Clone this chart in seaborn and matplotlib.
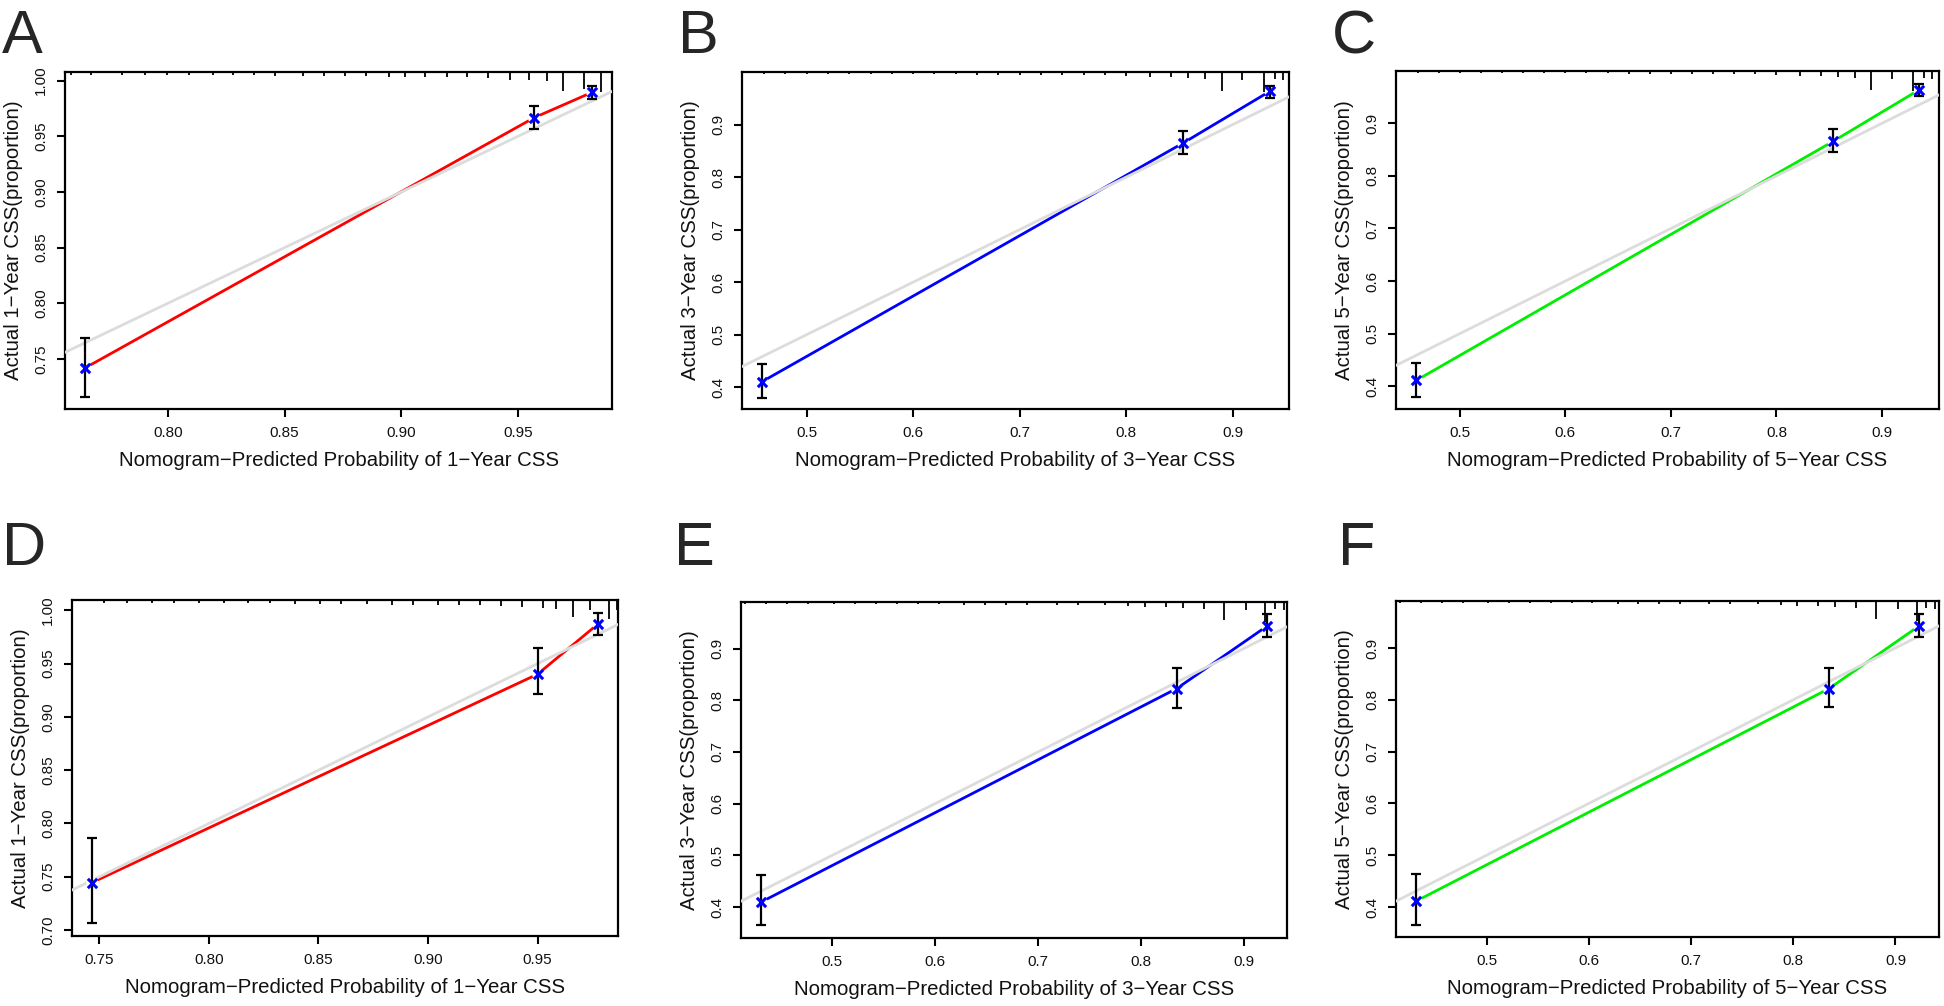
import numpy as np
import pandas as pd
import seaborn as sns
import matplotlib.pyplot as plt
import matplotlib.transforms as mtransforms

sns.set_style("ticks")
plt.rcParams['font.family'] = ['Liberation Sans', 'DejaVu Sans']

pred_A = [0.7646, 0.9570, 0.9818]
obs_A = [0.742, 0.9668, 0.9896]
lo_A = [0.716, 0.9563, 0.9836]
hi_A = [0.769, 0.977, 0.9955]

pred_B = [0.4584, 0.8535, 0.9345]
obs_B = [0.4108, 0.865, 0.963]
lo_B = [0.380, 0.844, 0.951]
hi_B = [0.4446, 0.8879, 0.974]

pred_C = [0.4587, 0.8536, 0.9354]
obs_C = [0.411, 0.8656, 0.964]
lo_C = [0.380, 0.8445, 0.951]
hi_C = [0.444, 0.889, 0.975]

pred_D = [0.7467, 0.9500, 0.9774]
obs_D = [0.7446, 0.9401, 0.9869]
lo_D = [0.7062, 0.9214, 0.9766]
hi_D = [0.7864, 0.9644, 0.9972]

pred_E = [0.4309, 0.8348, 0.9225]
obs_E = [0.4097, 0.8226, 0.9432]
lo_E = [0.3645, 0.7858, 0.922]
hi_E = [0.4626, 0.862, 0.967]

pred_F = [0.4306, 0.8349, 0.9231]
obs_F = [0.411, 0.8215, 0.9425]
lo_F = [0.366, 0.786, 0.921]
hi_F = [0.4644, 0.862, 0.966]

# rug of predicted values along the top border (position, relative height)
rug_A = [0.7585, 0.7672, 0.7802, 0.7901, 0.7996, 0.8090, 0.8195, 0.8280, 0.8370,
         0.8460, 0.8577, 0.8667, 0.8757, 0.8847, 0.8947, 0.9015, 0.9100, 0.9195,
         0.9280, 0.9370, 0.9466, 0.9547, 0.9623, 0.9695, 0.9785, 0.9857]
rugh_A = [0.008, 0.008, 0.008, 0.008, 0.01, 0.01, 0.01, 0.01, 0.01, 0.012, 0.012,
          0.012, 0.012, 0.012, 0.014, 0.014, 0.014, 0.016, 0.016, 0.018, 0.025,
          0.025, 0.028, 0.055, 0.05, 0.058]

rug_B = [0.46, 0.48, 0.50, 0.52, 0.54, 0.56, 0.58, 0.60, 0.62, 0.64, 0.66, 0.68,
         0.70, 0.72, 0.74, 0.76, 0.78, 0.80, 0.822, 0.842, 0.858, 0.874, 0.890,
         0.909, 0.929, 0.940, 0.947]
rugh_B = [0.005, 0.005, 0.006, 0.006, 0.006, 0.006, 0.006, 0.007, 0.007, 0.007,
          0.008, 0.008, 0.008, 0.009, 0.009, 0.01, 0.01, 0.012, 0.014, 0.016,
          0.018, 0.02, 0.055, 0.025, 0.06, 0.02, 0.025]

rug_D = [0.752, 0.7625, 0.774, 0.784, 0.7955, 0.807, 0.818, 0.8277, 0.8393, 0.8508,
         0.8604, 0.872, 0.8834, 0.893, 0.9045, 0.914, 0.9237, 0.9333, 0.9429,
         0.9525, 0.9583, 0.966, 0.9737, 0.9824, 0.9862]
rugh_D = [0.008, 0.008, 0.008, 0.008, 0.01, 0.01, 0.01, 0.01, 0.012, 0.012, 0.012,
          0.012, 0.014, 0.014, 0.014, 0.016, 0.016, 0.018, 0.02, 0.025, 0.028,
          0.05, 0.03, 0.058, 0.03]

rug_E = [0.4153, 0.4358, 0.4562, 0.4767, 0.5012, 0.5217, 0.5421, 0.5626, 0.583,
         0.6035, 0.628, 0.6485, 0.669, 0.6894, 0.718, 0.7385, 0.765, 0.7875, 0.804,
         0.8244, 0.8408, 0.8613, 0.8808, 0.9022, 0.9206, 0.930, 0.9389]
rugh_E = [0.005, 0.005, 0.006, 0.006, 0.006, 0.006, 0.006, 0.007, 0.007, 0.007,
          0.008, 0.008, 0.008, 0.009, 0.009, 0.01, 0.01, 0.012, 0.014, 0.016,
          0.018, 0.02, 0.055, 0.025, 0.06, 0.02, 0.025]

panels = [
    dict(lab="A", yr="1", pred=pred_A, obs=obs_A, lo=lo_A, hi=hi_A, rug=rug_A, rugh=rugh_A,
         col="#ff0000", xlim=(0.7559, 0.9903), ylim=(0.705, 1.0078),
         xt=[0.80, 0.85, 0.90, 0.95], yt=[0.75, 0.80, 0.85, 0.90, 0.95, 1.00], fmt="%.2f",
         box=[65, 72, 612, 409], lpos=(2, 53)),
    dict(lab="B", yr="3", pred=pred_B, obs=obs_B, lo=lo_B, hi=hi_B, rug=rug_B, rugh=rugh_B,
         col="#0000ff", xlim=(0.4394, 0.9527), ylim=(0.3586, 1.0),
         xt=[0.5, 0.6, 0.7, 0.8, 0.9], yt=[0.4, 0.5, 0.6, 0.7, 0.8, 0.9], fmt="%.1f",
         box=[742, 72, 1289, 409], lpos=(678, 53)),
    dict(lab="C", yr="5", pred=pred_C, obs=obs_C, lo=lo_C, hi=hi_C, rug=rug_B, rugh=rugh_B,
         col="#00ee00", xlim=(0.4395, 0.954), ylim=(0.3566, 0.9995),
         xt=[0.5, 0.6, 0.7, 0.8, 0.9], yt=[0.4, 0.5, 0.6, 0.7, 0.8, 0.9], fmt="%.1f",
         box=[1396, 71, 1939, 409], lpos=(1332, 53)),
    dict(lab="D", yr="1", pred=pred_D, obs=obs_D, lo=lo_D, hi=hi_D, rug=rug_D, rugh=rugh_D,
         col="#ff0000", xlim=(0.7375, 0.9867), ylim=(0.6944, 1.0097),
         xt=[0.75, 0.80, 0.85, 0.90, 0.95], yt=[0.70, 0.75, 0.80, 0.85, 0.90, 0.95, 1.00],
         fmt="%.2f", box=[72, 600, 618, 936], lpos=(2, 565)),
    dict(lab="E", yr="3", pred=pred_E, obs=obs_E, lo=lo_E, hi=hi_E, rug=rug_E, rugh=rugh_E,
         col="#0000ff", xlim=(0.4112, 0.942), ylim=(0.340, 0.990),
         xt=[0.5, 0.6, 0.7, 0.8, 0.9], yt=[0.4, 0.5, 0.6, 0.7, 0.8, 0.9], fmt="%.1f",
         box=[741, 602, 1287, 938], lpos=(674, 565)),
    dict(lab="F", yr="5", pred=pred_F, obs=obs_F, lo=lo_F, hi=hi_F, rug=rug_E, rugh=rugh_E,
         col="#00ee00", xlim=(0.4112, 0.9426), ylim=(0.342, 0.9907),
         xt=[0.5, 0.6, 0.7, 0.8, 0.9], yt=[0.4, 0.5, 0.6, 0.7, 0.8, 0.9], fmt="%.1f",
         box=[1396, 601, 1939, 937], lpos=(1338, 565)),
]

W, H = 1944, 1006
fig = plt.figure(figsize=(W / 100, H / 100), dpi=100)

for p in panels:
    x0, y0, x1, y1 = p["box"]
    ax = fig.add_axes([x0 / W, 1 - y1 / H, (x1 - x0) / W, (y1 - y0) / H])
    df = pd.DataFrame({"pred": p["pred"], "obs": p["obs"]})

    sns.lineplot(data=df, x="pred", y="obs", color=p["col"], lw=2, ax=ax, zorder=2)
    # ideal line
    ax.plot([0, 1], [0, 1], color="#dcdcdc", lw=2, zorder=3)
    # small gap around each point, like R type="b"
    ax.plot(p["pred"], p["obs"], "o", ms=9, mfc="white", mec="none", zorder=3.5)
    ax.errorbar(p["pred"], p["obs"],
                yerr=[np.array(p["obs"]) - np.array(p["lo"]), np.array(p["hi"]) - np.array(p["obs"])],
                fmt="none", ecolor="black", elinewidth=1.6, capsize=3.8, capthick=1.6, zorder=4)
    sns.scatterplot(data=df, x="pred", y="obs", marker="x", color="#0000ff", s=45,
                    linewidth=2.2, ax=ax, zorder=5)

    trans = mtransforms.blended_transform_factory(ax.transData, ax.transAxes)
    ax.vlines(p["rug"], [1 - h for h in p["rugh"]], 1, colors="black", lw=1.3,
              transform=trans, zorder=6)

    ax.set_xlim(p["xlim"])
    ax.set_ylim(p["ylim"])
    ax.set_xticks(p["xt"])
    ax.set_yticks(p["yt"])
    ax.set_xticklabels([p["fmt"] % v for v in p["xt"]], fontsize=11, color="#111111")
    ax.set_yticklabels([p["fmt"] % v for v in p["yt"]], fontsize=11, color="#111111",
                       rotation=90, va="center")
    ax.tick_params(direction="out", length=6, width=1.5, pad=6, color="black")
    for s in ax.spines.values():
        s.set_linewidth(1.6)
        s.set_color("black")
        s.set_visible(True)
    ax.set_xlabel("Nomogram\u2212Predicted Probability of %s\u2212Year CSS" % p["yr"],
                  fontsize=14.7, labelpad=8, color="#111111")
    ax.set_ylabel("Actual %s\u2212Year CSS(proportion)" % p["yr"], fontsize=14.7,
                  labelpad=8, color="#111111")

    lx, ly = p["lpos"]
    fig.text(lx / W, 1 - ly / H, p["lab"], fontsize=44, ha="left", va="baseline")

fig.savefig("out.png", dpi=100)
